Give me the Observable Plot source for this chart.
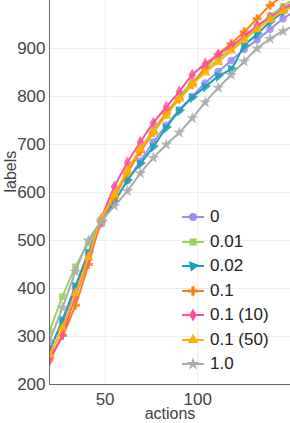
<!DOCTYPE html>
<html><head><meta charset="utf-8">
<script src="https://cdn.jsdelivr.net/npm/d3@7"></script>
<script src="https://cdn.jsdelivr.net/npm/@observablehq/plot@0.6"></script>
<style>
html,body{margin:0;padding:0;background:#fff;}
#wrap{position:relative;width:290px;height:423px;font-family:"Liberation Sans",Arial,sans-serif;}
#legend{position:absolute;left:180px;top:205px;}
.row{height:24.5px;display:flex;align-items:center;font-size:17px;color:#222;}
.row svg{margin-right:4px;}
</style>
</head><body>
<div id="wrap"><div id="chart"></div><div id="legend"></div></div>
<script>
const actions = [20,27,34,41,48,55,62,69,76,83,90,97,104,111,118,125,132,139,146,150];
const seriesNames = ["0","0.01","0.02","0.1","0.1 (10)","0.1 (50)","1.0"];
const colors = ["#9d8df1","#9ad45b","#19a2b2","#ff7f0e","#ff4fa0","#ffb300","#a8adad"];
const symbols = ["circle","square","triangle","cross","diamond","triangle","star"];
const rotations = [0,0,200,0,0,0,0];
const v0   = [275,330,400,470,535,580,625,665,705,740,772,800,828,852,875,898,918,940,962,972];
const v001 = [310,383,445,495,540,592,645,690,730,765,800,830,855,878,900,922,945,968,988,998];
const v002 = [270,335,405,475,540,580,625,660,695,735,770,798,820,842,858,905,930,955,976,988];
const v01  = [255,302,365,450,540,590,640,685,725,765,795,825,860,888,910,935,962,990,1010,1020];
const v0110 = [250,305,385,460,545,612,662,705,745,778,810,845,868,887,905,925,947,965,982,992];
const v0150 = [262,318,390,465,545,595,645,690,725,760,795,825,850,872,895,918,940,960,978,985];
const v10  = [290,360,435,500,540,572,603,640,672,700,725,755,788,818,845,873,900,920,936,944];
const valueArrays = [v0,v001,v002,v01,v0110,v0150,v10];
const yTicks = [200,300,400,500,600,700,800,900];
const xTicks = [50,100];

const rows = seriesNames.flatMap((s,i) => actions.map((a,j) => ({series:s, actions:a, labels:valueArrays[i][j]})));
const dots = rows.filter(d => d.actions < 148);

const font = '"Liberation Sans", Arial, sans-serif';
const marks = [
  Plot.gridX([50,100,150], {stroke:"#eeeeee", strokeOpacity:1}),
  Plot.gridY(yTicks, {stroke:"#eeeeee", strokeOpacity:1}),
];
seriesNames.forEach((s,i) => {
  const sub = rows.filter(d => d.series === s);
  const subd = dots.filter(d => d.series === s);
  marks.push(Plot.line(sub, {x:"actions", y:"labels", stroke:colors[i], strokeWidth:2, curve:"catmull-rom", clip:true}));
  marks.push(Plot.dot(subd, {x:"actions", y:"labels", fill:colors[i], symbol:()=>symbols[i], rotate:rotations[i], r:3.8, fillOpacity:0.85, clip:true}));
});
marks.push(Plot.axisY({ticks:yTicks, tickSize:0, tickPadding:4, fontSize:17, color:"#444", label:null}));
marks.push(Plot.axisX({ticks:xTicks, tickSize:0, tickPadding:8, fontSize:17, color:"#444", label:null}));
marks.push(Plot.ruleX([20], {stroke:"#666"}));
marks.push(Plot.ruleY([200], {stroke:"#666"}));
marks.push(Plot.text(["labels"], {frameAnchor:"left", rotate:-90, dx:-39, fontSize:16, fill:"#444"}));
marks.push(Plot.text(["actions"], {frameAnchor:"bottom", dy:34, fontSize:16, fill:"#444"}));

const chart = Plot.plot({
  width:290, height:423,
  marginLeft:49, marginRight:0, marginTop:0, marginBottom:39,
  style:{fontFamily:font, fontSize:"17px", color:"#444", background:"#fff", overflow:"visible"},
  x:{domain:[20,150]},
  y:{domain:[200,1000]},
  symbol:{domain:symbols, range:symbols},
  marks
});
document.getElementById("chart").appendChild(chart);

// legend
const leg = document.getElementById("legend");
const symMap = {circle:d3.symbolCircle, square:d3.symbolSquare, triangle:d3.symbolTriangle, cross:d3.symbolCross, diamond:d3.symbolDiamond, star:d3.symbolStar};
seriesNames.forEach((s,i) => {
  const row = document.createElement("div");
  row.className = "row";
  const sym = d3.symbol(symMap[symbols[i]], 50)();
  row.innerHTML = `<svg width="26" height="14"><line x1="2" x2="24" y1="7" y2="7" stroke="${colors[i]}" stroke-width="2"/><path d="${sym}" transform="translate(13,7) rotate(${rotations[i]})" fill="${colors[i]}"/></svg><span>${s}</span>`;
  leg.appendChild(row);
});
</script>
</body></html>
